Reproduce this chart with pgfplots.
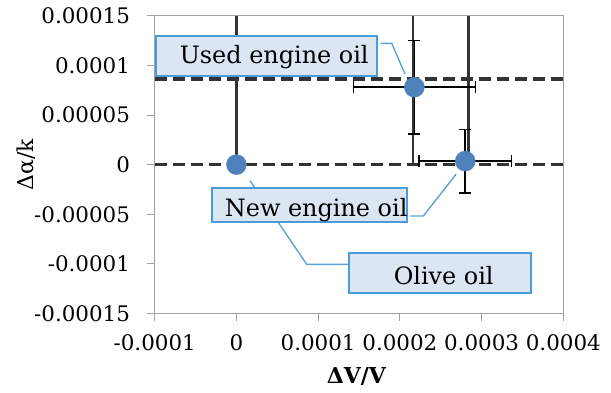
\documentclass[border=0pt]{standalone}
\usepackage{fontspec}
\setmainfont{DejaVu Serif}
\usepackage{pgfplots}
\pgfplotsset{compat=1.18}
\definecolor{mk}{HTML}{4F81BD}
\definecolor{boxfill}{HTML}{DCE6F2}
\definecolor{boxdraw}{HTML}{4A9BD9}
\definecolor{conn}{HTML}{5BA3DC}
\definecolor{axgray}{HTML}{A0A0A0}
\definecolor{dk}{HTML}{333333}
\begin{document}
\begin{tikzpicture}[x=1bp,y=1bp]
\begin{axis}[
  scale only axis, width=408.6bp, height=297.8bp,
  xmin=-0.0001, xmax=0.0004, ymin=-0.00015, ymax=0.00015,
  xtick={-0.0001,0,0.0001,0.0002,0.0003,0.0004},
  xticklabels={-0.0001,0,0.0001,0.0002,0.0003,0.0004},
  ytick={-0.00015,-0.0001,-0.00005,0,0.00005,0.0001,0.00015},
  yticklabels={-0.00015,-0.0001,-0.00005,0,0.00005,0.0001,0.00015},
  scaled ticks=false,
  axis line style={axgray, line width=0.9bp},
  tick style={axgray, line width=0.9bp},
  tick align=outside, major tick length=7.5bp,
  xtick pos=lower, ytick pos=left,
  tick label style={font=\fontsize{21.5}{26}\selectfont, inner sep=0pt},
  xticklabel style={anchor=base, yshift=-29bp},
  yticklabel style={anchor=east, xshift=-17bp},
  xlabel={\textbf{ΔV/V}},
  ylabel={Δα/k},
  label style={font=\fontsize{22}{26}\selectfont},
  xlabel style={at={(axis description cs:0.494,-0.212)}, anchor=center},
  ylabel style={at={(axis description cs:-0.315,0.5)}, anchor=center},
]
% dashed reference lines
\addplot[dk, line width=3.5bp, dash pattern=on 12bp off 6bp] coordinates {(-0.0001,0) (0.0004,0)};
\addplot[dk, line width=3.5bp, dash pattern=on 12bp off 6bp] coordinates {(-0.0001,0.0000862) (0.0004,0.0000862)};
% vertical lines
\addplot[dk, line width=2.2bp] coordinates {(0,0) (0,0.00015)};
\addplot[dk, line width=2.2bp] coordinates {(0.0002158,0) (0.0002158,0.00015)};
\addplot[dk, line width=2.2bp] coordinates {(0.000284,0) (0.000284,0.00015)};
% data with error bars
\addplot[only marks, mark=*, mark size=10bp, mark options={fill=mk, draw=mk},
  error bars/.cd, x dir=both, x explicit, y dir=both, y explicit,
  error bar style={black, line width=1.5bp},
  error mark options={rotate=90, black, line width=1.5bp, mark size=6bp}]
  coordinates {
    (0.0002178,0.000078) +- (0.0000745,0.000047)
    (0.000280,0.0000035) +- (0.0000565,0.000032)
  };
\addplot[only marks, mark=*, mark size=10bp, mark options={fill=mk, draw=mk}]
  coordinates {(0,0)};
\end{axis}
% callouts
\draw[conn, line width=1.4bp] (226,270.2) -- (237,270.2) -- (250.3,239.5);
\draw[conn, line width=1.4bp] (255.3,97.5) -- (268.6,97.5) -- (301.3,139.2);
\draw[conn, line width=1.4bp] (194.3,49.2) -- (152,49.2) -- (95.3,132.8);
\draw[boxdraw, fill=boxfill, line width=2bp] (1.3,237.5) rectangle (222,277.5);
\draw[boxdraw, fill=boxfill, line width=2bp] (57,91.8) rectangle (252,125.8);
\draw[boxdraw, fill=boxfill, line width=2bp] (194.3,20.2) rectangle (376,60.8);
\node[font=\fontsize{24}{28}\selectfont, inner sep=0pt] at (119.5,256) {Used engine oil};
\node[font=\fontsize{24}{28}\selectfont, inner sep=0pt] at (161.5,103.5) {New engine oil};
\node[font=\fontsize{24}{28}\selectfont, inner sep=0pt] at (289,38) {Olive oil};
\pgfresetboundingbox
\path (-154.7,-78.5) rectangle (456.3,313.5);
\end{tikzpicture}
\end{document}
